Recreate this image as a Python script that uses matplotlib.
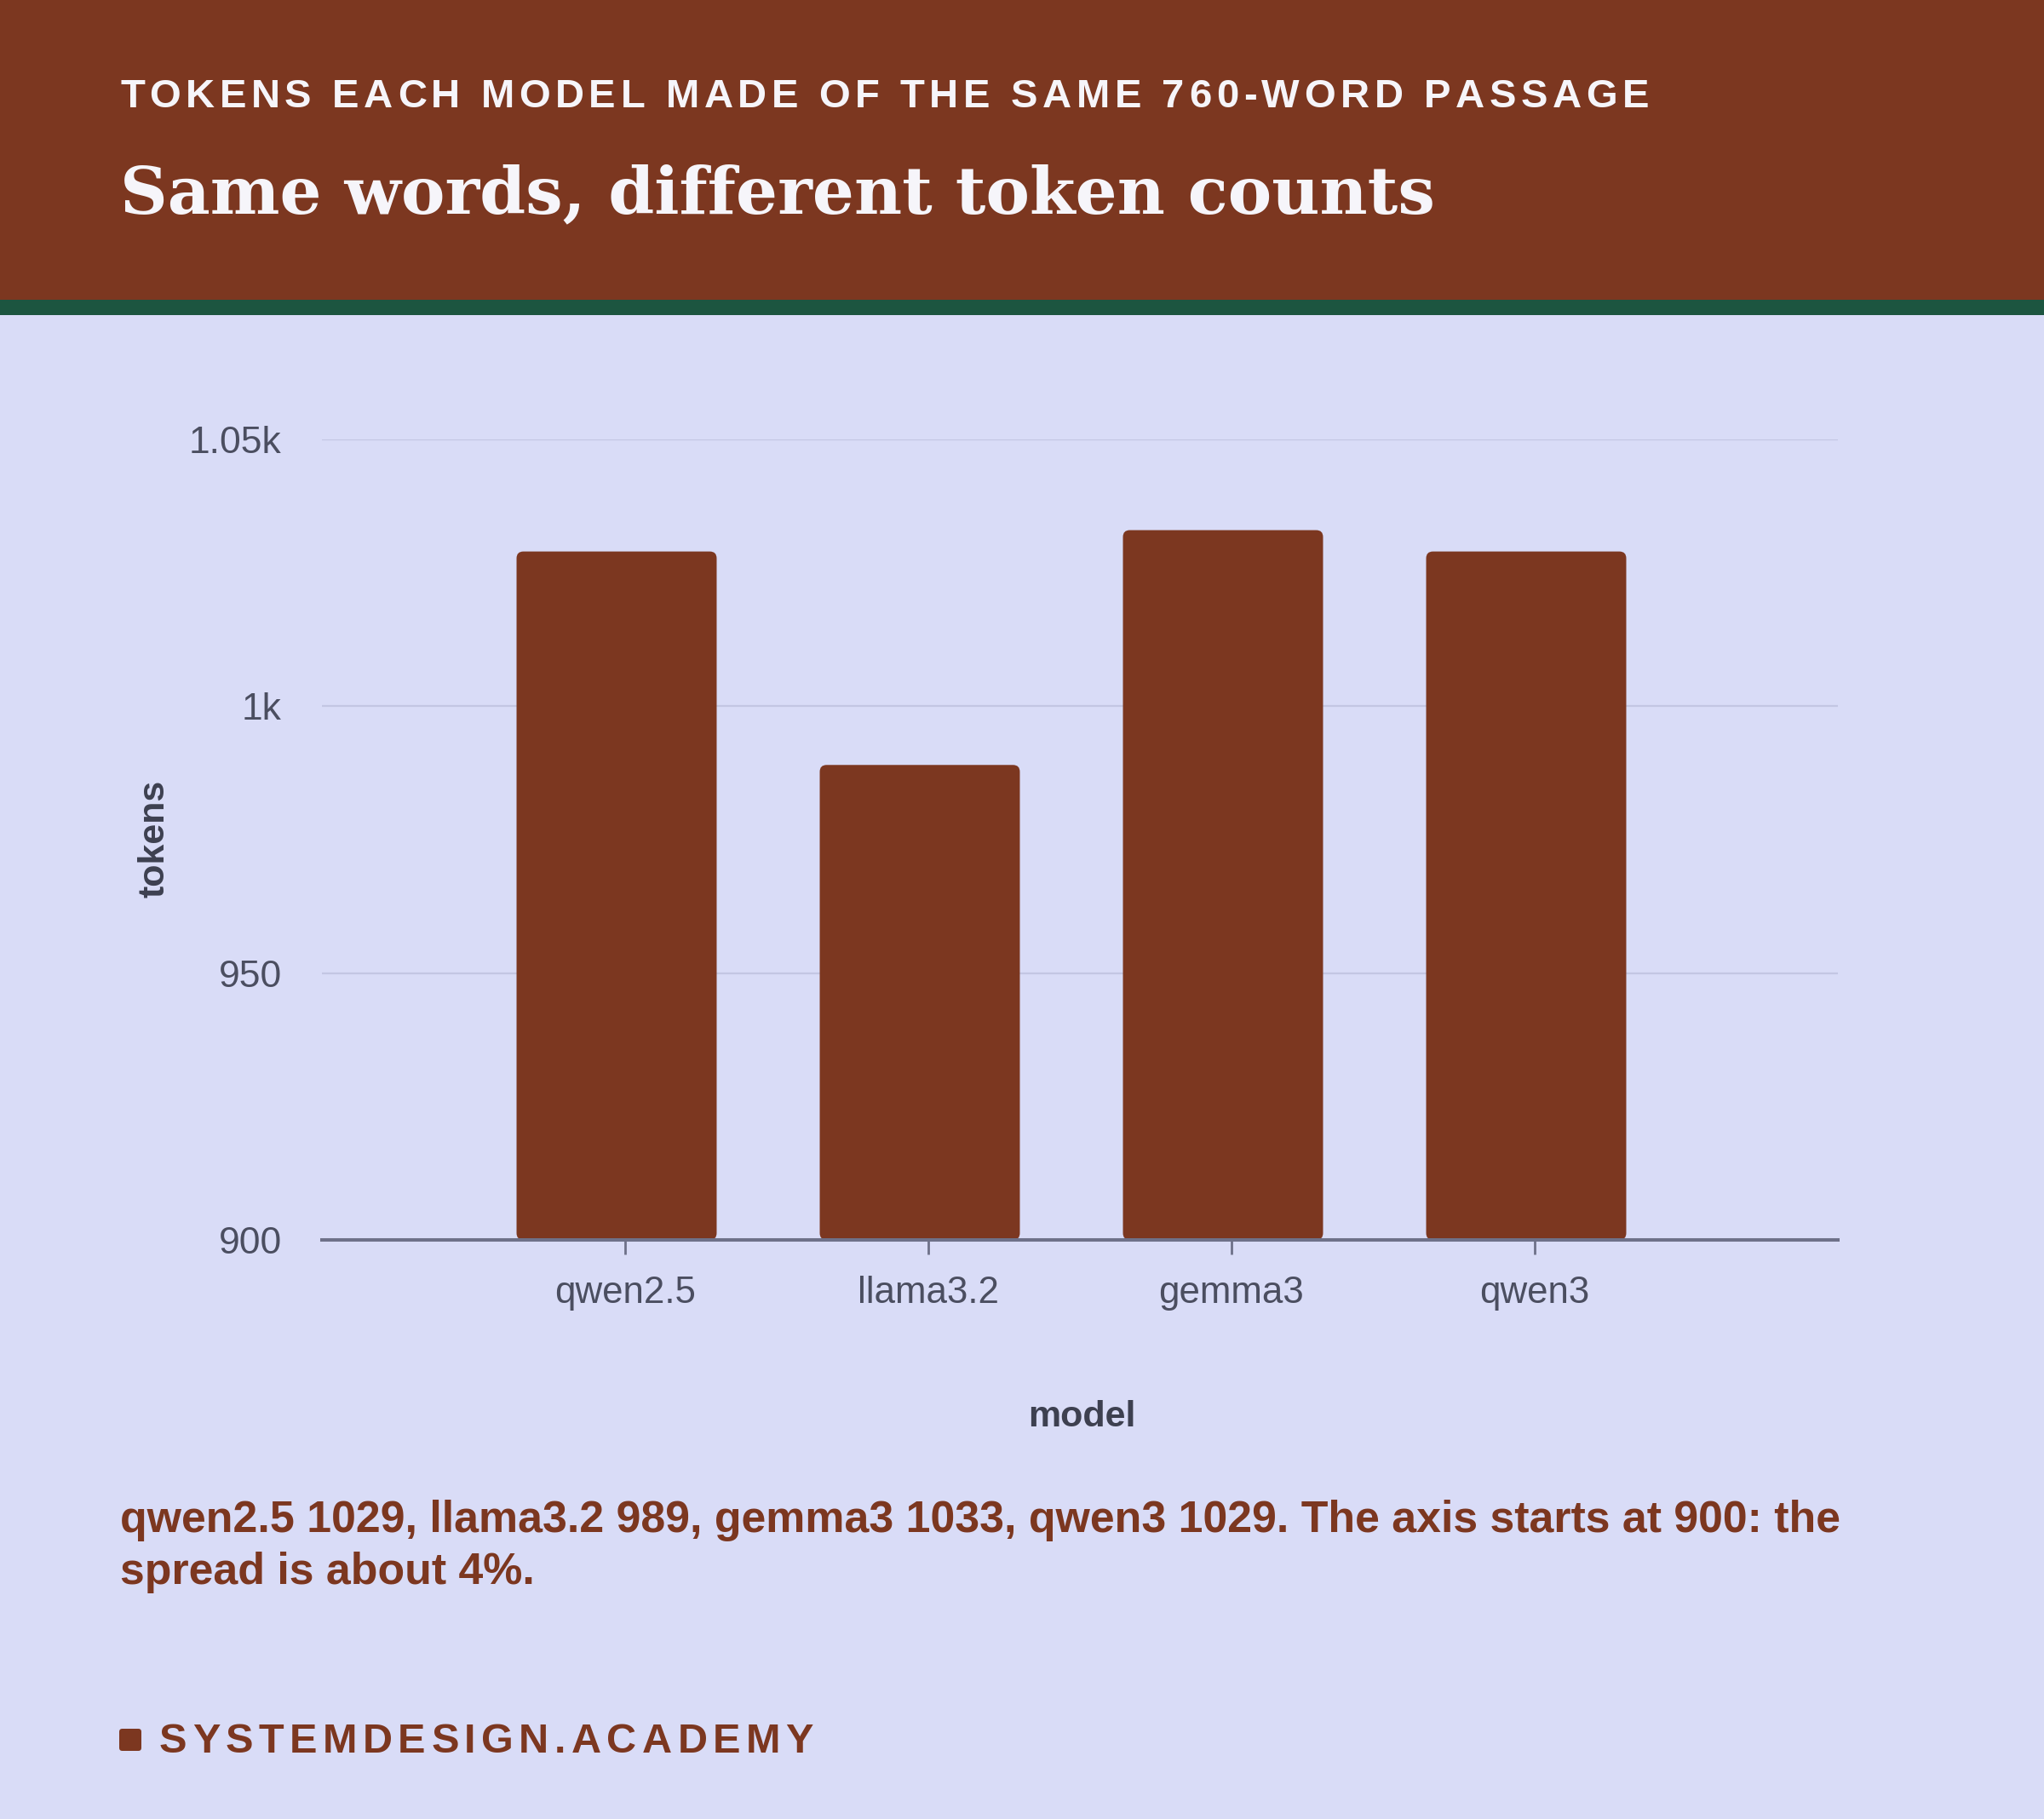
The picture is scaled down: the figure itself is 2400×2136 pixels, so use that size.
import matplotlib
matplotlib.use("Agg")
import matplotlib.pyplot as plt
from matplotlib.patches import FancyBboxPatch, Rectangle
from matplotlib.font_manager import FontProperties
import numpy as np

# ---------------- data ----------------
models = ["qwen2.5", "llama3.2", "gemma3", "qwen3"]
tokens = [1029, 989, 1033, 1029]
y_ticks = [900, 950, 1000, 1050]
y_tick_labels = ["900", "950", "1k", "1.05k"]
eyebrow = "TOKENS EACH MODEL MADE OF THE SAME 760-WORD PASSAGE"
title = "Same words, different token counts"
caption_lines = ["qwen2.5 1029, llama3.2 989, gemma3 1033, qwen3 1029. The axis starts at 900: the",
                 "spread is about 4%."]
footer = "SYSTEMDESIGN.ACADEMY"
x_label = "model"
y_label = "tokens"

# ---------------- style ----------------
BROWN = "#7C3720"
GREEN = "#1C5540"
BG = "#D9DCF7"
GRID = "#C3C6E3"
AXIS = "#6E7189"
TICK_TXT = "#4B4E60"
LABEL_TXT = "#3D4050"
WHITE = "#F6F5FA"
SANS = "Liberation Sans"

W, H = 2400, 2136
DPI = 200
fig = plt.figure(figsize=(W / DPI, H / DPI), dpi=DPI)
fig.patch.set_facecolor(BG)


def fx(x):
    return x / W


def fy(y):
    return 1 - y / H


# header band + stripe
fig.add_artist(Rectangle((0, fy(352)), 1, 352 / H, transform=fig.transFigure,
                         facecolor=BROWN, edgecolor="none", zorder=0))
fig.add_artist(Rectangle((0, fy(370)), 1, 18 / H, transform=fig.transFigure,
                         facecolor=GREEN, edgecolor="none", zorder=0))

renderer = fig.canvas.get_renderer()


def tracked(x_px, y_px, s, prop, color, target_w):
    def w(t):
        return renderer.get_text_width_height_descent(t, prop, ismath=False)[0]
    bar = w("|")
    adv = [w(c + "|") - bar for c in s]
    natural = sum(adv[:-1]) + w(s[-1])
    track = (target_w - natural) / (len(s) - 1)
    x = x_px
    for c, a in zip(s, adv):
        if c != " ":
            fig.text(fx(x), fy(y_px), c, ha="left", va="baseline",
                     fontproperties=prop, color=color)
        x += a + track


# eyebrow
prop_eb = FontProperties(family=SANS, weight="bold", size=17)
tracked(141, 126, eyebrow, prop_eb, WHITE, 1795)

# title
fig.text(fx(141), fy(250), title, ha="left", va="baseline",
         fontfamily="DejaVu Serif", fontweight="bold", fontsize=27.8, color=WHITE)

# ---------------- axes ----------------
ax_left, ax_right, ax_top, ax_bottom = 378, 2158, 516, 1456
ax = fig.add_axes([fx(ax_left), fy(ax_bottom), (ax_right - ax_left) / W, (ax_bottom - ax_top) / H])
ax.set_facecolor("none")
ax.set_xlim(-1, len(models))
ax.set_ylim(900, 1050)

px_per_x = (ax_right - ax_left) / (len(models) + 1)
px_per_y = (ax_bottom - ax_top) / (1050 - 900)

x = np.arange(len(models))
vals = np.array(tokens)
bar_shift = -10 / px_per_x   # bars sit slightly left of their ticks in the reference
bars = ax.bar(x + bar_shift, vals - 900, bottom=900, width=0.66, color=BROWN, zorder=3)

# replace bars with rounded ones
r_px = 8
aspect = (1 / px_per_y) / (1 / px_per_x)
for rect in bars.patches:
    bx, by = rect.get_x(), rect.get_y()
    bw, bh = rect.get_width(), rect.get_height()
    rect.set_visible(False)
    fb = FancyBboxPatch((bx, by), bw, bh,
                        boxstyle=f"round,pad=0,rounding_size={r_px / px_per_x}",
                        mutation_aspect=aspect, facecolor=BROWN, edgecolor="none",
                        zorder=3, clip_on=False)
    ax.add_patch(fb)

ax.set_yticks(y_ticks, y_tick_labels)
ax.set_xticks(x, models)
ax.yaxis.grid(True, color=GRID, linewidth=0.8, zorder=0)
ax.set_axisbelow(True)
for s in ["left", "right", "top"]:
    ax.spines[s].set_visible(False)
ax.spines["bottom"].set_color(AXIS)
ax.spines["bottom"].set_linewidth(1.45)
ax.spines["bottom"].set_zorder(4)
ax.tick_params(axis="y", length=0, pad=17, labelsize=16, labelcolor=TICK_TXT)
ax.tick_params(axis="x", length=6.2, width=1.0, color=AXIS, pad=9,
               labelsize=15.8, labelcolor=TICK_TXT)
for lab in ax.get_xticklabels() + ax.get_yticklabels():
    lab.set_fontfamily(SANS)

# axis labels
fig.text(fx(181), fy(985), y_label, rotation=90, ha="center", va="center",
         fontfamily=SANS, fontweight="bold", fontsize=15.5, color=LABEL_TXT)
fig.text(fx(1270), fy(1664), x_label, ha="center", va="center",
         fontfamily=SANS, fontweight="bold", fontsize=15.5, color=LABEL_TXT)

# caption
for line, yb in zip(caption_lines, [1799, 1860]):
    fig.text(fx(141), fy(yb), line, ha="left", va="baseline",
             fontfamily=SANS, fontweight="bold", fontsize=18.7, color=BROWN)

# footer
fig.add_artist(FancyBboxPatch((fx(140), fy(2056)), 26 / W, 26 / H,
                              boxstyle="round,pad=0,rounding_size=0.0015",
                              mutation_aspect=W / H, transform=fig.transFigure,
                              facecolor=BROWN, edgecolor="none"))
prop_ft = FontProperties(family=SANS, weight="bold", size=17.5)
tracked(187, 2058, footer, prop_ft, BROWN, 768)

fig.savefig("out.png", dpi=DPI, facecolor=BG)
